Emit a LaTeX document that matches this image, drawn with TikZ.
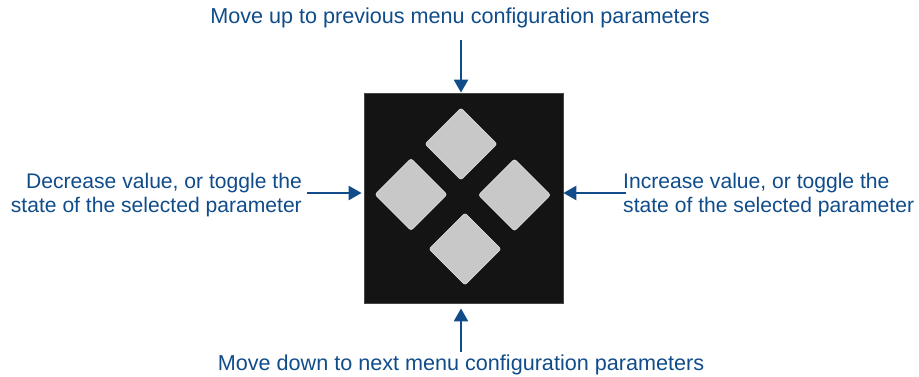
\documentclass[tikz,border=0pt]{standalone}
\usepackage{fontspec}
\setmainfont{Liberation Sans}
\usetikzlibrary{arrows.meta}
\definecolor{lblue}{RGB}{16,76,138}
\definecolor{panel}{RGB}{20,20,20}
\definecolor{paneledge}{RGB}{70,70,70}
\definecolor{keygray}{RGB}{200,200,200}
\definecolor{keyedge}{RGB}{225,225,225}
\begin{document}
\begin{tikzpicture}[x=1pt,y=-1pt,
  lbl/.style={text=lblue, inner sep=0pt, font=\fontsize{21.6}{24}\selectfont},
  sidelbl/.style={lbl, font=\fontsize{21.1}{24}\selectfont},
  keypad/.style={fill=panel, draw=paneledge, line width=0.8pt, minimum width=199pt, minimum height=210pt, inner sep=0pt},
  keybtn/.style={fill=keygray, draw=keyedge, line width=0.6pt, minimum size=51pt, inner sep=0pt, rotate=45, rounded corners=2.5pt},
  pointer/.style={draw=lblue, line width=2.4pt, -{Triangle[length=13pt,width=14pt]}}]
\useasboundingbox (0,0) rectangle (919,377);
\node[keypad] (pad) at (463.5,198) {};
\node[keybtn] (kup) at (461,144) {};
\node[keybtn] (kleft) at (411,194.5) {};
\node[keybtn] (kright) at (514.5,195) {};
\node[keybtn] (kdown) at (465,249) {};
\node[lbl] (tup) at (460,18) {Move up to previous menu configuration parameters};
\node[lbl] (tdown) at (461,365) {Move down to next menu configuration parameters};
\node[sidelbl, align=right, anchor=east] (tleft) at (302,195) {Decrease value, or toggle the\\state of the selected parameter};
\node[sidelbl, align=left, anchor=west] (tright) at (623,195) {Increase value, or toggle the\\state of the selected parameter};
\draw[pointer, shorten <=12pt] ([xshift=-2.5pt]tup.south -| pad.north) -- ([xshift=-2.5pt]pad.north);
\draw[pointer, shorten <=3pt] (tdown.north) -- ([yshift=-5pt]pad.south -| tdown.north);
\draw[pointer, shorten <=5pt] ([yshift=5pt]tleft.east |- pad.west) -- ([shift={(-2pt,5pt)}]pad.west);
\draw[pointer, shorten <=-3pt] ([yshift=5pt]tright.west |- pad.east) -- ([yshift=5pt]pad.east);
\end{tikzpicture}
\end{document}
